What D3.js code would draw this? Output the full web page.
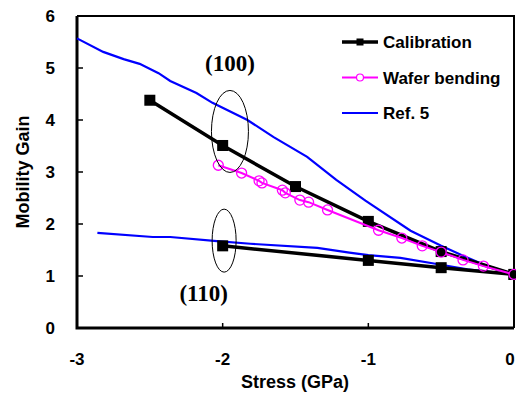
<!DOCTYPE html>
<html>
<head>
<meta charset="utf-8">
<script src="https://cdn.jsdelivr.net/npm/d3@7"></script>
<style>
  body { margin: 0; background: white; }
  .tick-label { font-family: Arial, "Liberation Sans", sans-serif; font-weight: bold; font-size: 17px; }
  .axis-title { font-family: Arial, "Liberation Sans", sans-serif; font-weight: bold; font-size: 18px; }
  .legend-text { font-family: Arial, "Liberation Sans", sans-serif; font-weight: bold; font-size: 17px; }
  .orient { font-family: "Times New Roman", "Liberation Serif", serif; font-weight: bold; font-size: 23px; }
</style>
</head>
<body>
<svg width="516" height="394"></svg>
<script>
// **** Data ****
var xTicks = [-3, -2, -1, 0];
var yTicks = [0, 1, 2, 3, 4, 5, 6];

// Calibration, (100) and (110)
var cal100X = [-2.5, -2, -1.5, -1, -0.5, 0];
var cal100Y = [4.38, 3.51, 2.72, 2.05, 1.47, 1.03];
var cal110X = [-2, -1, -0.5, 0];
var cal110Y = [1.58, 1.3, 1.16, 1.03];

// Wafer bending, (100)
var waferX = [-2.03, -1.87, -1.75, -1.73, -1.59, -1.57, -1.47, -1.41, -1.28, -0.93, -0.77, -0.63, -0.5, -0.35, -0.21, 0];
var waferY = [3.13, 2.98, 2.83, 2.79, 2.65, 2.6, 2.46, 2.42, 2.27, 1.88, 1.73, 1.58, 1.46, 1.31, 1.19, 1.03];

// Ref. 5 curves
var ref100X = [-3, -2.82, -2.68, -2.57, -2.44, -2.36, -2.18, -2.07, -1.83, -1.65, -1.42, -1.22, -1.02, -0.71, -0.5, -0.35, -0.21, 0];
var ref100Y = [5.57, 5.31, 5.17, 5.08, 4.9, 4.75, 4.52, 4.33, 4.0, 3.67, 3.29, 2.85, 2.45, 1.87, 1.58, 1.39, 1.22, 1.03];
var ref110X = [-2.86, -2.48, -2.36, -2.04, -1.81, -1.35, -1.13, -1, -0.78, -0.53, -0.32, 0];
var ref110Y = [1.83, 1.75, 1.75, 1.67, 1.62, 1.54, 1.45, 1.4, 1.35, 1.23, 1.13, 1.03];

var legendNames = ["Calibration", "Wafer bending", "Ref. 5"];

function zip(xs, ys) {
    return xs.map((x, i) => ({ x: x, y: ys[i] }));
}

var svg = d3.select('svg');

var x = d3.scaleLinear().domain([-3, 0]).range([77, 514]);
var y = d3.scaleLinear().domain([0, 6]).range([328, 16]);

var line = d3.line().x(d => x(d.x)).y(d => y(d.y));

// frame (top and right)
svg.append("path")
    .attr("d", `M${x(-3)},${y(6)}H${x(0)}V${y(0)}`)
    .attr("fill", "none")
    .attr("stroke", "black")
    .attr("stroke-width", 2);

// Y-axis with inward ticks
var yAxis = svg.append("g").attr("transform", `translate(${x(-3)},0)`);
yAxis.selectAll("line.tk").data(yTicks).enter().append("line")
    .attr("x1", 0).attr("x2", 6)
    .attr("y1", d => y(d)).attr("y2", d => y(d))
    .attr("stroke", "black").attr("stroke-width", 1.5);
yAxis.selectAll("text").data(yTicks).enter().append("text")
    .attr("class", "tick-label")
    .attr("x", -22).attr("y", d => y(d))
    .attr("dy", "0.36em")
    .attr("text-anchor", "end")
    .text(d => d);

// X-axis with inward ticks
var xAxis = svg.append("g").attr("transform", `translate(0,${y(0)})`);
xAxis.selectAll("line.tk").data(xTicks).enter().append("line")
    .attr("x1", d => x(d)).attr("x2", d => x(d))
    .attr("y1", 0).attr("y2", -5)
    .attr("stroke", "black").attr("stroke-width", 1.5);
xAxis.selectAll("text").data(xTicks).enter().append("text")
    .attr("class", "tick-label")
    .attr("x", d => Math.min(x(d), 510)).attr("y", 37)
    .attr("text-anchor", "middle")
    .text(d => d);

// axis lines (thicker)
svg.append("path")
    .attr("d", `M${x(-3)},${y(6)}V${y(0)}H${x(0)}`)
    .attr("fill", "none")
    .attr("stroke", "black")
    .attr("stroke-width", 3);

// axis titles
svg.append("text")
    .attr("class", "axis-title")
    .attr("x", 295).attr("y", 388)
    .attr("text-anchor", "middle")
    .text("Stress (GPa)");
svg.append("text")
    .attr("class", "axis-title")
    .attr("transform", "translate(29,172) rotate(-90)")
    .attr("text-anchor", "middle")
    .text("Mobility Gain");

// Ref. 5 curves
[zip(ref100X, ref100Y), zip(ref110X, ref110Y)].forEach(function(s) {
    svg.append("path").datum(s)
        .attr("d", line)
        .attr("fill", "none")
        .attr("stroke", "#0000ff")
        .attr("stroke-width", 2.2);
});

// Calibration lines and squares
[zip(cal100X, cal100Y), zip(cal110X, cal110Y)].forEach(function(s) {
    svg.append("path").datum(s)
        .attr("d", line)
        .attr("fill", "none")
        .attr("stroke", "black")
        .attr("stroke-width", 3.5);
    svg.selectAll(null).data(s).enter().append("rect")
        .attr("x", d => x(d.x) - 5.5)
        .attr("y", d => y(d.y) - 5.5)
        .attr("width", 11).attr("height", 11)
        .attr("fill", "black");
});

// Wafer bending
var wafer = zip(waferX, waferY);
svg.append("path").datum(wafer)
    .attr("d", line)
    .attr("fill", "none")
    .attr("stroke", "#ff00ff")
    .attr("stroke-width", 2);
svg.selectAll(null).data(wafer).enter().append("circle")
    .attr("cx", d => x(d.x))
    .attr("cy", d => y(d.y))
    .attr("r", 5)
    .attr("fill", d => cal100X.indexOf(d.x) >= 0 ? "black" : "none")
    .attr("stroke", "#ff00ff")
    .attr("stroke-width", 1.3);

// orientation ellipses and labels
svg.append("ellipse")
    .attr("cx", x(-1.95)).attr("cy", y(3.78))
    .attr("rx", 18.5).attr("ry", 41)
    .attr("fill", "none").attr("stroke", "black").attr("stroke-width", 1);
svg.append("ellipse")
    .attr("cx", x(-1.99)).attr("cy", y(1.68))
    .attr("rx", 12).attr("ry", 31.5)
    .attr("fill", "none").attr("stroke", "black").attr("stroke-width", 1);
svg.append("text").attr("class", "orient")
    .attr("x", x(-1.95)).attr("y", 71)
    .attr("text-anchor", "middle")
    .text("(100)");
svg.append("text").attr("class", "orient")
    .attr("x", x(-2.13)).attr("y", 301)
    .attr("text-anchor", "middle")
    .text("(110)");

// Legend
var legendStroke = ["black", "#ff00ff", "#0000ff"];
var legendWidth = [3.5, 2, 2.2];
var legend = svg.selectAll("g.legend").data(legendNames).enter().append("g")
    .attr("transform", (d, i) => `translate(342,${42 + i * 35.5})`);
legend.append("line")
    .attr("x1", 0).attr("x2", 36)
    .attr("stroke", (d, i) => legendStroke[i])
    .attr("stroke-width", (d, i) => legendWidth[i]);
legend.append("text")
    .attr("class", "legend-text")
    .attr("x", 41).attr("dy", "0.36em")
    .text(d => d);
legend.filter((d, i) => i === 0).append("rect")
    .attr("x", 14.5).attr("y", -3.5).attr("width", 7).attr("height", 7)
    .attr("fill", "black");
legend.filter((d, i) => i === 1).append("circle")
    .attr("cx", 18).attr("r", 3.5)
    .attr("fill", "white").attr("stroke", "#ff00ff").attr("stroke-width", 1.2);
</script>
</body>
</html>
